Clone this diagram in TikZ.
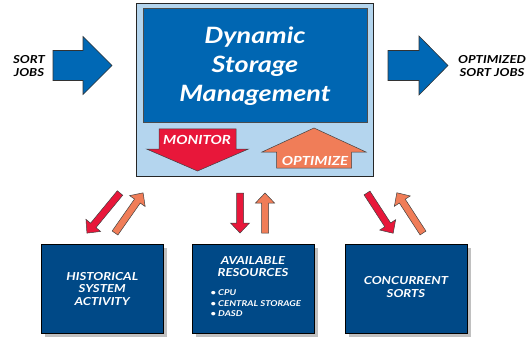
\documentclass[tikz,border=0pt]{standalone}
\usepackage{fontspec}
\setmainfont{Lato}[FakeStretch=1.2]
\definecolor{arrowblue}{RGB}{0,104,181}
\definecolor{coreblue}{RGB}{0,102,178}
\definecolor{paleblue}{RGB}{180,213,238}
\definecolor{navy}{RGB}{0,73,135}
\definecolor{monred}{RGB}{232,23,58}
\definecolor{optorange}{RGB}{240,125,88}
\definecolor{shadowgray}{RGB}{192,192,192}
\tikzset{
  pics/barr/.style n args={4}{code={
    \draw[pic actions] (0,-#2) -- ({#1-#4},-#2) -- ({#1-#4},-#3) -- (#1,0)
      -- ({#1-#4},#3) -- ({#1-#4},#2) -- (0,#2) -- cycle;}},
  bigarrow/.style={fill=arrowblue, draw=black!80, line width=0.6pt},
  redarrow/.style={fill=monred, draw=black!75, line width=0.5pt},
  orangearrow/.style={fill=optorange, draw=black!75, line width=0.5pt},
  framebox/.style={draw=black!85, line width=0.8pt, fill=paleblue, anchor=north west, inner sep=0pt},
  corebox/.style={draw=black!70, line width=0.5pt, fill=coreblue, anchor=north west, inner sep=0pt},
  resbox/.style={draw=black, line width=0.5pt, fill=navy, anchor=north west, inner sep=0pt,
     minimum width=122pt, minimum height=89pt},
  shadowbox/.style={fill=shadowgray, anchor=north west, inner sep=0pt,
     minimum width=122pt, minimum height=89pt},
  titletext/.style={text=white, align=center, font=\bfseries\itshape\fontsize{22.5}{29}\selectfont},
  tagtext/.style={text=white, font=\bfseries\itshape\fontsize{12.5}{14}\selectfont},
  boxtext/.style={text=white, align=center, font=\bfseries\itshape\fontsize{11}{12.5}\selectfont},
  listtext/.style={text=white, align=left, anchor=west, font=\bfseries\itshape\fontsize{8}{10.5}\selectfont},
  sidetext/.style={text=black, align=center, font=\bfseries\itshape\fontsize{11}{13}\selectfont},
}
\begin{document}
\begin{tikzpicture}[x=1pt,y=-1pt]
\useasboundingbox (0,0) rectangle (526,339);

% main frame
\node[framebox, minimum width=237pt, minimum height=173pt] (dsm) at (136,3) {};
\node[corebox, minimum width=224pt, minimum height=114pt] (core) at (143,8) {};
\node[titletext] (title) at (255,66) {Dynamic\\Storage\\Management};

\pic[redarrow] (monarrow) at (197.5,129) [rotate=-90] {barr={42}{38.5}{51}{22}};
\pic[orangearrow] (optarrow) at (314,168) [rotate=90] {barr={40}{37.5}{52}{24}};
\node[tagtext] (monitor) at (197,140) {MONITOR};
\node[tagtext] (optimize) at (315,161) {OPTIMIZE};

% input / output
\pic[bigarrow] (inarrow) at (53,65.5) {barr={59}{15}{29}{29}};
\pic[bigarrow] (outarrow) at (388,65.5) {barr={60}{15}{29.5}{29}};
\node[sidetext] (sortjobs) at (29,66) {SORT\\JOBS};
\node[sidetext] (optjobs) at (492,66) {OPTIMIZED\\SORT JOBS};

% bottom boxes
\node[shadowbox] (sh1) at (45,248) {};
\node[shadowbox] (sh2) at (196,248) {};
\node[shadowbox] (sh3) at (349,248) {};
\node[resbox] (hist) at (41,244) {};
\node[resbox] (avail) at (192,244) {};
\node[resbox] (conc) at (345,244) {};
\node[boxtext] (histtext) at (hist.center) {HISTORICAL\\SYSTEM\\ACTIVITY};
\node[boxtext] (availtext) at (253,266.5) {AVAILABLE\\RESOURCES};
\node[listtext] (availlist) at (207,303.5) {\textbullet\ CPU\\\textbullet\ CENTRAL STORAGE\\\textbullet\ DASD};
\node[boxtext] (conctext) at (406,287) {CONCURRENT\\SORTS};

% small arrows
\pic[redarrow] (r1) at (120,193) [rotate=-129.5] {barr={52}{3.5}{9.5}{10}};
\pic[orangearrow] (o1) at (115,233) [rotate=55] {barr={49}{3.5}{9.5}{10}};
\pic[redarrow] (r2) at (240,193) [rotate=-90] {barr={40}{3.5}{9.5}{10}};
\pic[orangearrow] (o2) at (265,233) [rotate=90] {barr={40}{3.5}{9.5}{10}};
\pic[redarrow] (r3) at (367,193) [rotate=-57] {barr={48}{3.5}{9.5}{10}};
\pic[orangearrow] (o3) at (423,233) [rotate=123] {barr={48}{3.5}{9.5}{10}};
\end{tikzpicture}
\end{document}
